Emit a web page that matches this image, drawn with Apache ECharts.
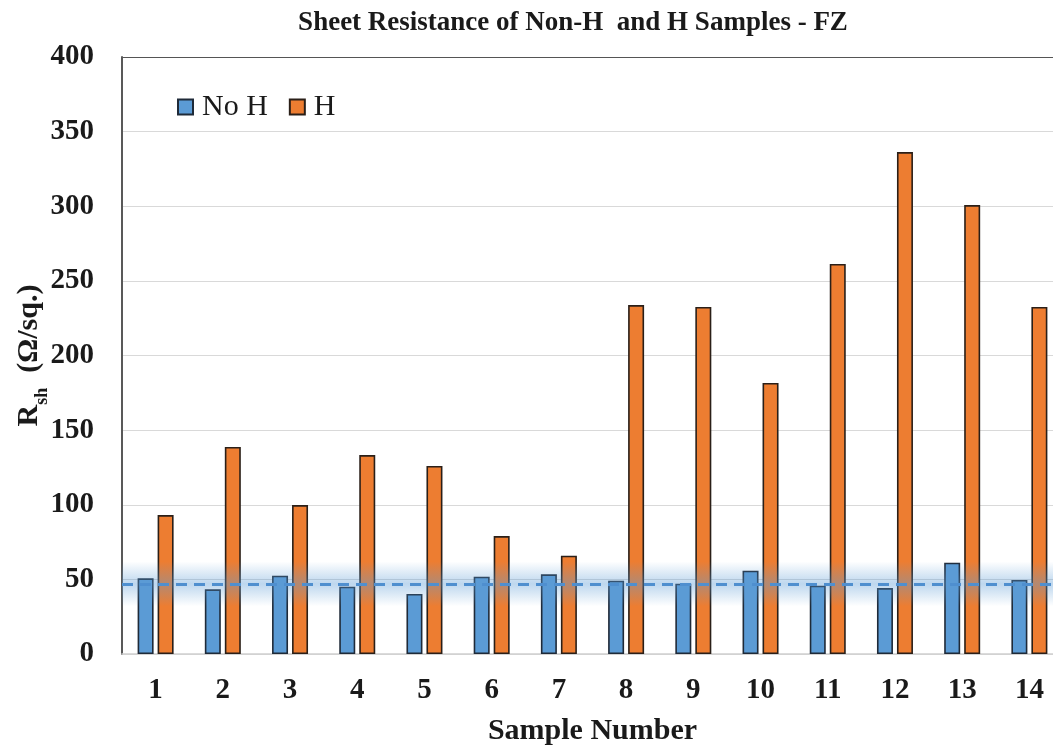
<!DOCTYPE html>
<html>
<head>
<meta charset="utf-8">
<script src="https://cdn.jsdelivr.net/npm/echarts@6/dist/echarts.min.js"></script>
<style>
html,body{margin:0;padding:0;background:#fff;}
#chart{width:1053px;height:751px;}
</style>
</head>
<body>
<div id="chart"></div>
<script>
const categories = ['1','2','3','4','5','6','7','8','9','10','11','12','13','14'];
const noH = [50.7, 43.3, 52.5, 45.1, 40.2, 51.8, 53.4, 49.1, 47.1, 55.8, 45.8, 44.2, 61.2, 49.6];
const withH = [93.1, 138.7, 99.8, 133.3, 126.0, 79.0, 65.9, 233.8, 232.5, 181.6, 261.3, 336.3, 300.8, 232.5];
const refLevel = 47;
const bandLow = 32;
const bandHigh = 62;
const titleText = 'Sheet Resistance of Non-H  and H Samples - FZ';

const FONT = '"Liberation Serif", "Times New Roman", serif';
const chart = echarts.init(document.getElementById('chart'));
chart.setOption({
  animation: false,
  backgroundColor: '#ffffff',
  title: {
    text: titleText,
    left: 568, top: 5, textAlign: 'center',
    textStyle: {fontFamily: FONT, fontWeight: 'bold', fontSize: 27, color: '#1a1a1a'}
  },
  legend: {
    left: 172, top: 87,
    itemWidth: 15, itemHeight: 15, itemGap: 21,
    icon: 'rect',
    textStyle: {fontFamily: FONT, fontSize: 30, color: '#1a1a1a', padding: [0,0,0,4]},
    data: ['No H', 'H']
  },
  grid: {left: 122, top: 57, bottom: 97, right: -10, containLabel: false, outerBoundsMode: 'none'},
  xAxis: {
    type: 'category',
    data: categories,
    name: 'Sample Number',
    nameLocation: 'middle',
    nameGap: 62,
    nameMoveOverlap: false,
    nameTextStyle: {fontFamily: FONT, fontWeight: 'bold', fontSize: 30, color: '#1a1a1a'},
    axisLine: {lineStyle: {color: '#d0d0d0', width: 1.5}},
    axisTick: {show: false},
    axisLabel: {fontFamily: FONT, fontWeight: 'bold', fontSize: 29, color: '#1a1a1a', margin: 22}
  },
  yAxis: {
    type: 'value',
    min: 0, max: 400, interval: 50,
    name: '{r|R}{s|sh}{r|  (Ω/sq.)}',
    nameLocation: 'middle',
    nameRotate: 90,
    nameGap: 78,
    nameMoveOverlap: false,
    nameTextStyle: {
      fontFamily: FONT, fontWeight: 'bold', color: '#1a1a1a',
      rich: {
        r: {fontFamily: FONT, fontWeight: 'bold', fontSize: 30, color: '#1a1a1a', verticalAlign: 'bottom'},
        s: {fontFamily: FONT, fontWeight: 'bold', fontSize: 18, color: '#1a1a1a', verticalAlign: 'bottom', padding: [0,0,-7,0]}
      }
    },
    axisLine: {show: true, lineStyle: {color: '#595959', width: 2}},
    axisTick: {show: false},
    axisLabel: {fontFamily: FONT, fontWeight: 'bold', fontSize: 29, color: '#1a1a1a', margin: 28},
    splitLine: {show: true, lineStyle: {color: ['#d9d9d9','#d9d9d9','#d9d9d9','#d9d9d9','#d9d9d9','#d9d9d9','#d9d9d9','#d9d9d9','#555555'], width: 1.2}}
  },
  series: [
    {
      name: 'No H', type: 'bar', data: noH,
      barWidth: 16, barGap: '25%',
      itemStyle: {color: '#5b9bd5', borderColor: '#1f2a38', borderWidth: 1.6}
    },
    {
      name: 'H', type: 'bar', data: withH,
      barWidth: 16, barGap: '25%',
      itemStyle: {color: '#ed7d31', borderColor: '#2a1f18', borderWidth: 1.6},
      markArea: {
        silent: true, z: 5,
        itemStyle: {
          color: {
            type: 'linear', x: 0, y: 0, x2: 0, y2: 1,
            colorStops: [
              {offset: 0, color: 'rgba(91,155,213,0)'},
              {offset: 0.5, color: 'rgba(91,155,213,0.4)'},
              {offset: 1, color: 'rgba(91,155,213,0)'}
            ]
          }
        },
        data: [[{yAxis: bandLow}, {yAxis: bandHigh}]]
      },
      markLine: {
        silent: true, z: 6, symbol: 'none',
        label: {show: false},
        lineStyle: {color: '#4f8fcf', type: [11, 7], width: 3},
        data: [{yAxis: refLevel}]
      }
    }
  ]
});
</script>
</body>
</html>
